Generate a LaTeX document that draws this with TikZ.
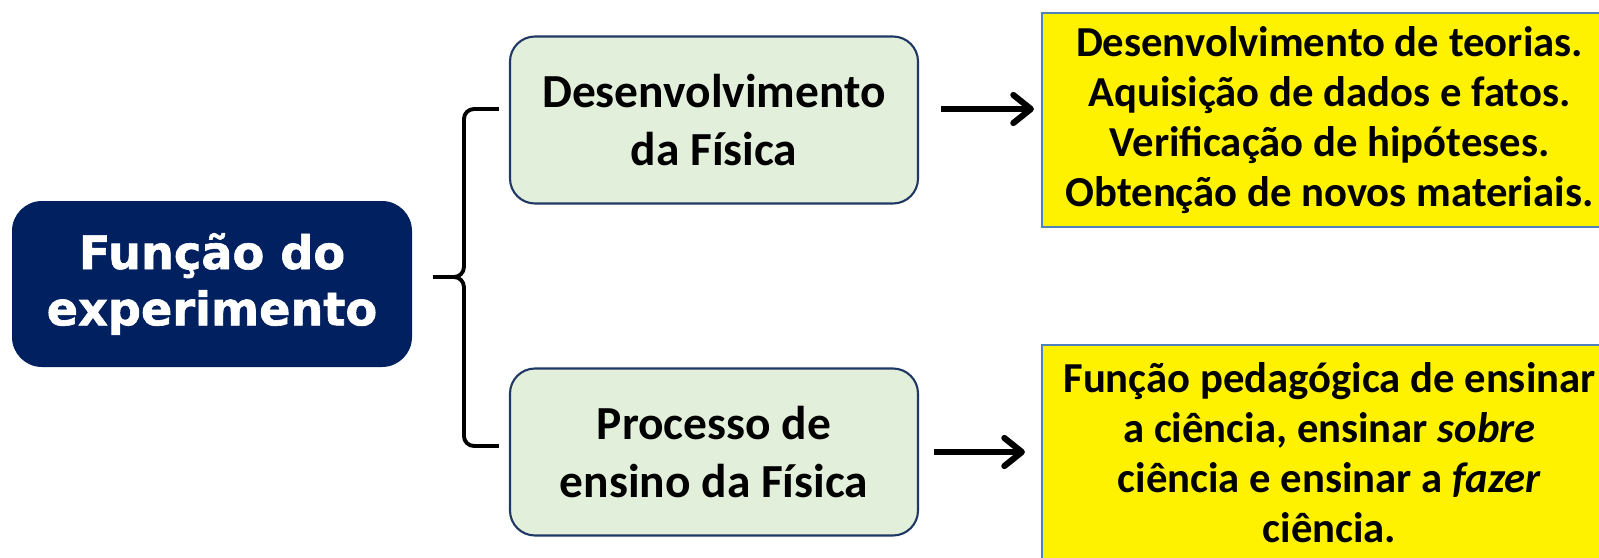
\documentclass[tikz,border=0pt]{standalone}
\usepackage{fontspec}
\setmainfont{Carlito}
\newfontfamily\headfont[FakeBold=1.3]{DejaVu Sans Bold}
\usetikzlibrary{arrows.meta,positioning}
\definecolor{navy}{HTML}{002060}
\definecolor{palegreen}{HTML}{E2EFDA}
\definecolor{darkrim}{HTML}{1F3864}
\definecolor{steelrim}{HTML}{4F81BD}
\tikzset{
  headbox/.style={fill=navy,rounded corners=0.6cm,minimum width=8cm,minimum height=3.32cm,
    text=white,align=center,font=\headfont\fontsize{26.3}{32}\selectfont},
  areabox/.style={fill=palegreen,draw=darkrim,line width=1.2pt,rounded corners=0.5cm,
    minimum width=8.16cm,minimum height=3.34cm,align=center,font=\bfseries\fontsize{27}{32.5}\selectfont},
  notebox/.style={fill=yellow,draw=steelrim,line width=1.2pt,minimum width=11.5cm,
    align=center,inner sep=0pt,font=\bfseries\fontsize{24.3}{28.4}\selectfont},
  bracket/.style={line width=2.2pt},
  pointer/.style={line width=3.5pt,-{Straight Barb[length=10pt,width=16pt,round]}},
}

\begin{document}
\begin{tikzpicture}
    \useasboundingbox (0,0) rectangle (31.98,-11.14);
    % boxes
    \node[headbox] (head) at (4.24,-5.68) {Função do\\experimento};
    \node[areabox] (desfis) at (14.28,-2.40) {Desenvolvimento\\da Física};
    \node[areabox] (ensfis) at (14.28,-9.04) {Processo de\\ensino da Física};
    \node[notebox,minimum height=4.28cm] (resdes) at (26.59,-2.40)
        {Desenvolvimento de teorias.\\Aquisição de dados e fatos.\\Verificação de hipóteses.\\Obtenção de novos materiais.};
    \node[notebox,minimum height=4.3cm] (resens) at (26.59,-9.05)
        {Função pedagógica de ensinar\\a ciência, ensinar \textit{sobre}\\ciência e ensinar a \textit{fazer}\\ciência.};
    % brace
    \coordinate (bractop) at ([xshift=-0.2cm,yshift=0.22cm]desfis.west);
    \coordinate (bracbot) at ([xshift=-0.2cm,yshift=0.12cm]ensfis.west);
    \coordinate (bractip) at ([xshift=0.42cm,yshift=0.14cm]head.east);
    \coordinate (spine) at ([xshift=-0.7cm]bractop);
    \coordinate (spinemid) at (spine |- bractip);
    \coordinate (spinebot) at (spine |- bracbot);
    \draw[bracket] (bractop) -- ++(-0.5,0) arc[start angle=90,end angle=180,radius=0.2]
        -- ([yshift=0.2cm]spinemid) arc[start angle=0,end angle=-90,radius=0.2]
        arc[start angle=90,end angle=0,radius=0.2] -- ([yshift=0.2cm]spinebot)
        arc[start angle=180,end angle=270,radius=0.2] -- (bracbot);
    \draw[bracket] ([xshift=-0.2cm]spinemid) -- (bractip);
    % arrows
    \coordinate (ensend) at (ensfis.east -| resens.west);
    \draw[pointer] ([xshift=0.44cm,yshift=0.22cm]desfis.east) -- ([xshift=-0.14cm,yshift=0.22cm]resdes.west);
    \draw[pointer] ([xshift=0.3cm]ensfis.east) -- ([xshift=-0.32cm]ensend);
\end{tikzpicture}
\end{document}
